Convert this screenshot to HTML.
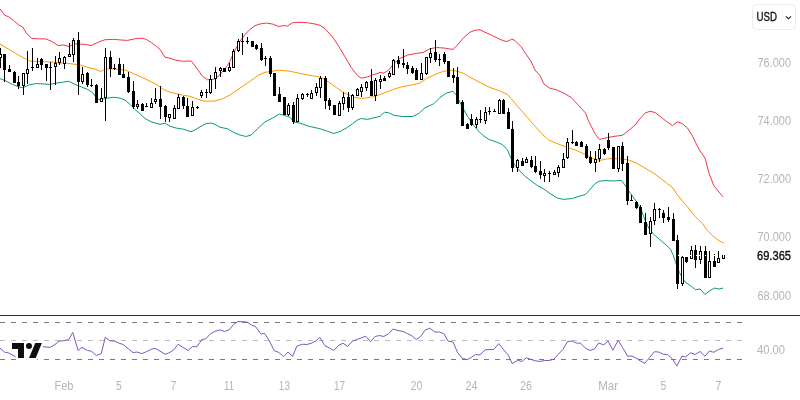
<!DOCTYPE html>
<html lang="en"><head><meta charset="utf-8"><title>Chart</title>
<style>
html,body{margin:0;padding:0;background:#fff;}
body{width:800px;height:400px;overflow:hidden;font-family:"Liberation Sans",sans-serif;}
svg{display:block;will-change:transform;}
text{font-family:"Liberation Sans",sans-serif;font-size:12px;}
.ax{fill:#b2b5be;}
</style></head><body>
<svg width="800" height="400" viewBox="0 0 800 400">
<rect width="800" height="400" fill="#fff"/>

<rect x="748" y="0" width="1" height="372" fill="#fdfdfe" shape-rendering="crispEdges"/>
<rect x="0" y="372" width="800" height="1" fill="#fcfcfd" shape-rendering="crispEdges"/>
<g shape-rendering="crispEdges">
<rect x="0" y="322" width="5" height="1" fill="#787b86"/>
<rect x="11" y="322" width="5" height="1" fill="#787b86"/>
<rect x="22" y="322" width="5" height="1" fill="#787b86"/>
<rect x="33" y="322" width="5" height="1" fill="#787b86"/>
<rect x="44" y="322" width="5" height="1" fill="#787b86"/>
<rect x="55" y="322" width="5" height="1" fill="#787b86"/>
<rect x="66" y="322" width="5" height="1" fill="#787b86"/>
<rect x="77" y="322" width="5" height="1" fill="#787b86"/>
<rect x="88" y="322" width="5" height="1" fill="#787b86"/>
<rect x="99" y="322" width="5" height="1" fill="#787b86"/>
<rect x="110" y="322" width="5" height="1" fill="#787b86"/>
<rect x="121" y="322" width="5" height="1" fill="#787b86"/>
<rect x="132" y="322" width="5" height="1" fill="#787b86"/>
<rect x="143" y="322" width="5" height="1" fill="#787b86"/>
<rect x="154" y="322" width="5" height="1" fill="#787b86"/>
<rect x="165" y="322" width="5" height="1" fill="#787b86"/>
<rect x="176" y="322" width="5" height="1" fill="#787b86"/>
<rect x="187" y="322" width="5" height="1" fill="#787b86"/>
<rect x="198" y="322" width="5" height="1" fill="#787b86"/>
<rect x="209" y="322" width="5" height="1" fill="#787b86"/>
<rect x="220" y="322" width="5" height="1" fill="#787b86"/>
<rect x="231" y="322" width="5" height="1" fill="#787b86"/>
<rect x="242" y="322" width="5" height="1" fill="#787b86"/>
<rect x="253" y="322" width="5" height="1" fill="#787b86"/>
<rect x="264" y="322" width="5" height="1" fill="#787b86"/>
<rect x="275" y="322" width="5" height="1" fill="#787b86"/>
<rect x="286" y="322" width="5" height="1" fill="#787b86"/>
<rect x="297" y="322" width="5" height="1" fill="#787b86"/>
<rect x="308" y="322" width="5" height="1" fill="#787b86"/>
<rect x="319" y="322" width="5" height="1" fill="#787b86"/>
<rect x="330" y="322" width="5" height="1" fill="#787b86"/>
<rect x="341" y="322" width="5" height="1" fill="#787b86"/>
<rect x="352" y="322" width="5" height="1" fill="#787b86"/>
<rect x="363" y="322" width="5" height="1" fill="#787b86"/>
<rect x="374" y="322" width="5" height="1" fill="#787b86"/>
<rect x="385" y="322" width="5" height="1" fill="#787b86"/>
<rect x="396" y="322" width="5" height="1" fill="#787b86"/>
<rect x="407" y="322" width="5" height="1" fill="#787b86"/>
<rect x="418" y="322" width="5" height="1" fill="#787b86"/>
<rect x="429" y="322" width="5" height="1" fill="#787b86"/>
<rect x="440" y="322" width="5" height="1" fill="#787b86"/>
<rect x="451" y="322" width="5" height="1" fill="#787b86"/>
<rect x="462" y="322" width="5" height="1" fill="#787b86"/>
<rect x="473" y="322" width="5" height="1" fill="#787b86"/>
<rect x="484" y="322" width="5" height="1" fill="#787b86"/>
<rect x="495" y="322" width="5" height="1" fill="#787b86"/>
<rect x="506" y="322" width="5" height="1" fill="#787b86"/>
<rect x="517" y="322" width="5" height="1" fill="#787b86"/>
<rect x="528" y="322" width="5" height="1" fill="#787b86"/>
<rect x="539" y="322" width="5" height="1" fill="#787b86"/>
<rect x="550" y="322" width="5" height="1" fill="#787b86"/>
<rect x="561" y="322" width="5" height="1" fill="#787b86"/>
<rect x="572" y="322" width="5" height="1" fill="#787b86"/>
<rect x="583" y="322" width="5" height="1" fill="#787b86"/>
<rect x="594" y="322" width="5" height="1" fill="#787b86"/>
<rect x="605" y="322" width="5" height="1" fill="#787b86"/>
<rect x="616" y="322" width="5" height="1" fill="#787b86"/>
<rect x="627" y="322" width="5" height="1" fill="#787b86"/>
<rect x="638" y="322" width="5" height="1" fill="#787b86"/>
<rect x="649" y="322" width="5" height="1" fill="#787b86"/>
<rect x="660" y="322" width="5" height="1" fill="#787b86"/>
<rect x="671" y="322" width="5" height="1" fill="#787b86"/>
<rect x="682" y="322" width="5" height="1" fill="#787b86"/>
<rect x="693" y="322" width="5" height="1" fill="#787b86"/>
<rect x="704" y="322" width="5" height="1" fill="#787b86"/>
<rect x="715" y="322" width="5" height="1" fill="#787b86"/>
<rect x="726" y="322" width="5" height="1" fill="#787b86"/>
<rect x="737" y="322" width="5" height="1" fill="#787b86"/>
<rect x="0" y="340" width="5" height="1" fill="#bcbdc3"/>
<rect x="11" y="340" width="5" height="1" fill="#bcbdc3"/>
<rect x="22" y="340" width="5" height="1" fill="#bcbdc3"/>
<rect x="33" y="340" width="5" height="1" fill="#bcbdc3"/>
<rect x="44" y="340" width="5" height="1" fill="#bcbdc3"/>
<rect x="55" y="340" width="5" height="1" fill="#bcbdc3"/>
<rect x="66" y="340" width="5" height="1" fill="#bcbdc3"/>
<rect x="77" y="340" width="5" height="1" fill="#bcbdc3"/>
<rect x="88" y="340" width="5" height="1" fill="#bcbdc3"/>
<rect x="99" y="340" width="5" height="1" fill="#bcbdc3"/>
<rect x="110" y="340" width="5" height="1" fill="#bcbdc3"/>
<rect x="121" y="340" width="5" height="1" fill="#bcbdc3"/>
<rect x="132" y="340" width="5" height="1" fill="#bcbdc3"/>
<rect x="143" y="340" width="5" height="1" fill="#bcbdc3"/>
<rect x="154" y="340" width="5" height="1" fill="#bcbdc3"/>
<rect x="165" y="340" width="5" height="1" fill="#bcbdc3"/>
<rect x="176" y="340" width="5" height="1" fill="#bcbdc3"/>
<rect x="187" y="340" width="5" height="1" fill="#bcbdc3"/>
<rect x="198" y="340" width="5" height="1" fill="#bcbdc3"/>
<rect x="209" y="340" width="5" height="1" fill="#bcbdc3"/>
<rect x="220" y="340" width="5" height="1" fill="#bcbdc3"/>
<rect x="231" y="340" width="5" height="1" fill="#bcbdc3"/>
<rect x="242" y="340" width="5" height="1" fill="#bcbdc3"/>
<rect x="253" y="340" width="5" height="1" fill="#bcbdc3"/>
<rect x="264" y="340" width="5" height="1" fill="#bcbdc3"/>
<rect x="275" y="340" width="5" height="1" fill="#bcbdc3"/>
<rect x="286" y="340" width="5" height="1" fill="#bcbdc3"/>
<rect x="297" y="340" width="5" height="1" fill="#bcbdc3"/>
<rect x="308" y="340" width="5" height="1" fill="#bcbdc3"/>
<rect x="319" y="340" width="5" height="1" fill="#bcbdc3"/>
<rect x="330" y="340" width="5" height="1" fill="#bcbdc3"/>
<rect x="341" y="340" width="5" height="1" fill="#bcbdc3"/>
<rect x="352" y="340" width="5" height="1" fill="#bcbdc3"/>
<rect x="363" y="340" width="5" height="1" fill="#bcbdc3"/>
<rect x="374" y="340" width="5" height="1" fill="#bcbdc3"/>
<rect x="385" y="340" width="5" height="1" fill="#bcbdc3"/>
<rect x="396" y="340" width="5" height="1" fill="#bcbdc3"/>
<rect x="407" y="340" width="5" height="1" fill="#bcbdc3"/>
<rect x="418" y="340" width="5" height="1" fill="#bcbdc3"/>
<rect x="429" y="340" width="5" height="1" fill="#bcbdc3"/>
<rect x="440" y="340" width="5" height="1" fill="#bcbdc3"/>
<rect x="451" y="340" width="5" height="1" fill="#bcbdc3"/>
<rect x="462" y="340" width="5" height="1" fill="#bcbdc3"/>
<rect x="473" y="340" width="5" height="1" fill="#bcbdc3"/>
<rect x="484" y="340" width="5" height="1" fill="#bcbdc3"/>
<rect x="495" y="340" width="5" height="1" fill="#bcbdc3"/>
<rect x="506" y="340" width="5" height="1" fill="#bcbdc3"/>
<rect x="517" y="340" width="5" height="1" fill="#bcbdc3"/>
<rect x="528" y="340" width="5" height="1" fill="#bcbdc3"/>
<rect x="539" y="340" width="5" height="1" fill="#bcbdc3"/>
<rect x="550" y="340" width="5" height="1" fill="#bcbdc3"/>
<rect x="561" y="340" width="5" height="1" fill="#bcbdc3"/>
<rect x="572" y="340" width="5" height="1" fill="#bcbdc3"/>
<rect x="583" y="340" width="5" height="1" fill="#bcbdc3"/>
<rect x="594" y="340" width="5" height="1" fill="#bcbdc3"/>
<rect x="605" y="340" width="5" height="1" fill="#bcbdc3"/>
<rect x="616" y="340" width="5" height="1" fill="#bcbdc3"/>
<rect x="627" y="340" width="5" height="1" fill="#bcbdc3"/>
<rect x="638" y="340" width="5" height="1" fill="#bcbdc3"/>
<rect x="649" y="340" width="5" height="1" fill="#bcbdc3"/>
<rect x="660" y="340" width="5" height="1" fill="#bcbdc3"/>
<rect x="671" y="340" width="5" height="1" fill="#bcbdc3"/>
<rect x="682" y="340" width="5" height="1" fill="#bcbdc3"/>
<rect x="693" y="340" width="5" height="1" fill="#bcbdc3"/>
<rect x="704" y="340" width="5" height="1" fill="#bcbdc3"/>
<rect x="715" y="340" width="5" height="1" fill="#bcbdc3"/>
<rect x="726" y="340" width="5" height="1" fill="#bcbdc3"/>
<rect x="737" y="340" width="5" height="1" fill="#bcbdc3"/>
<rect x="0" y="359" width="5" height="1" fill="#787b86"/>
<rect x="11" y="359" width="5" height="1" fill="#787b86"/>
<rect x="22" y="359" width="5" height="1" fill="#787b86"/>
<rect x="33" y="359" width="5" height="1" fill="#787b86"/>
<rect x="44" y="359" width="5" height="1" fill="#787b86"/>
<rect x="55" y="359" width="5" height="1" fill="#787b86"/>
<rect x="66" y="359" width="5" height="1" fill="#787b86"/>
<rect x="77" y="359" width="5" height="1" fill="#787b86"/>
<rect x="88" y="359" width="5" height="1" fill="#787b86"/>
<rect x="99" y="359" width="5" height="1" fill="#787b86"/>
<rect x="110" y="359" width="5" height="1" fill="#787b86"/>
<rect x="121" y="359" width="5" height="1" fill="#787b86"/>
<rect x="132" y="359" width="5" height="1" fill="#787b86"/>
<rect x="143" y="359" width="5" height="1" fill="#787b86"/>
<rect x="154" y="359" width="5" height="1" fill="#787b86"/>
<rect x="165" y="359" width="5" height="1" fill="#787b86"/>
<rect x="176" y="359" width="5" height="1" fill="#787b86"/>
<rect x="187" y="359" width="5" height="1" fill="#787b86"/>
<rect x="198" y="359" width="5" height="1" fill="#787b86"/>
<rect x="209" y="359" width="5" height="1" fill="#787b86"/>
<rect x="220" y="359" width="5" height="1" fill="#787b86"/>
<rect x="231" y="359" width="5" height="1" fill="#787b86"/>
<rect x="242" y="359" width="5" height="1" fill="#787b86"/>
<rect x="253" y="359" width="5" height="1" fill="#787b86"/>
<rect x="264" y="359" width="5" height="1" fill="#787b86"/>
<rect x="275" y="359" width="5" height="1" fill="#787b86"/>
<rect x="286" y="359" width="5" height="1" fill="#787b86"/>
<rect x="297" y="359" width="5" height="1" fill="#787b86"/>
<rect x="308" y="359" width="5" height="1" fill="#787b86"/>
<rect x="319" y="359" width="5" height="1" fill="#787b86"/>
<rect x="330" y="359" width="5" height="1" fill="#787b86"/>
<rect x="341" y="359" width="5" height="1" fill="#787b86"/>
<rect x="352" y="359" width="5" height="1" fill="#787b86"/>
<rect x="363" y="359" width="5" height="1" fill="#787b86"/>
<rect x="374" y="359" width="5" height="1" fill="#787b86"/>
<rect x="385" y="359" width="5" height="1" fill="#787b86"/>
<rect x="396" y="359" width="5" height="1" fill="#787b86"/>
<rect x="407" y="359" width="5" height="1" fill="#787b86"/>
<rect x="418" y="359" width="5" height="1" fill="#787b86"/>
<rect x="429" y="359" width="5" height="1" fill="#787b86"/>
<rect x="440" y="359" width="5" height="1" fill="#787b86"/>
<rect x="451" y="359" width="5" height="1" fill="#787b86"/>
<rect x="462" y="359" width="5" height="1" fill="#787b86"/>
<rect x="473" y="359" width="5" height="1" fill="#787b86"/>
<rect x="484" y="359" width="5" height="1" fill="#787b86"/>
<rect x="495" y="359" width="5" height="1" fill="#787b86"/>
<rect x="506" y="359" width="5" height="1" fill="#787b86"/>
<rect x="517" y="359" width="5" height="1" fill="#787b86"/>
<rect x="528" y="359" width="5" height="1" fill="#787b86"/>
<rect x="539" y="359" width="5" height="1" fill="#787b86"/>
<rect x="550" y="359" width="5" height="1" fill="#787b86"/>
<rect x="561" y="359" width="5" height="1" fill="#787b86"/>
<rect x="572" y="359" width="5" height="1" fill="#787b86"/>
<rect x="583" y="359" width="5" height="1" fill="#787b86"/>
<rect x="594" y="359" width="5" height="1" fill="#787b86"/>
<rect x="605" y="359" width="5" height="1" fill="#787b86"/>
<rect x="616" y="359" width="5" height="1" fill="#787b86"/>
<rect x="627" y="359" width="5" height="1" fill="#787b86"/>
<rect x="638" y="359" width="5" height="1" fill="#787b86"/>
<rect x="649" y="359" width="5" height="1" fill="#787b86"/>
<rect x="660" y="359" width="5" height="1" fill="#787b86"/>
<rect x="671" y="359" width="5" height="1" fill="#787b86"/>
<rect x="682" y="359" width="5" height="1" fill="#787b86"/>
<rect x="693" y="359" width="5" height="1" fill="#787b86"/>
<rect x="704" y="359" width="5" height="1" fill="#787b86"/>
<rect x="715" y="359" width="5" height="1" fill="#787b86"/>
<rect x="726" y="359" width="5" height="1" fill="#787b86"/>
<rect x="737" y="359" width="5" height="1" fill="#787b86"/>
</g>
<polyline points="0.00,8.75 4.40,15.00 8.75,16.90 13.75,20.60 18.75,25.00 22.50,26.90 26.90,33.75 31.90,38.50 37.50,38.75 46.25,39.00 52.50,41.90 58.10,45.60 63.75,45.00 68.75,46.50 75.00,43.75 85.00,44.40 91.25,45.60 96.25,43.10 100.00,41.50 105.00,39.75 113.75,39.40 121.25,40.00 127.50,40.40 135.00,38.75 141.90,38.10 146.25,39.40 151.25,42.50 156.25,46.25 160.00,49.40 165.00,57.25 170.00,58.10 175.00,60.00 182.50,61.25 191.25,61.00 196.25,67.50 202.50,76.25 207.50,79.75 213.75,79.40 218.75,76.00 223.75,70.00 227.50,65.60 230.30,60.50 235.00,50.00 240.00,41.25 245.00,34.40 250.00,29.40 255.00,25.60 260.00,24.00 266.25,23.10 272.50,24.00 278.75,26.50 283.75,25.60 287.50,26.00 292.50,22.75 300.00,22.25 307.50,22.75 315.00,24.00 320.00,25.25 325.00,28.75 326.25,30.00 332.50,36.90 338.75,46.25 345.00,56.90 351.25,67.50 357.50,75.60 361.25,78.10 367.50,76.90 372.50,75.00 380.00,72.50 383.75,73.10 388.75,70.00 393.75,63.75 400.00,58.40 407.50,55.00 416.25,53.50 423.75,52.25 430.00,48.75 436.25,47.50 445.00,48.10 450.00,49.00 453.00,49.40 457.50,45.00 463.75,37.50 470.00,32.25 475.00,30.25 480.00,29.75 485.00,32.25 492.50,35.60 500.00,39.40 505.00,41.25 508.00,41.25 511.90,39.00 515.00,40.60 521.25,46.90 526.25,54.40 531.25,61.90 535.00,70.00 540.00,75.60 543.75,83.75 549.40,88.10 556.25,89.75 563.75,93.10 571.25,97.50 578.75,105.60 585.60,113.10 588.10,120.00 591.25,126.25 595.00,133.75 599.40,139.40 607.50,137.50 615.00,136.25 622.50,135.25 630.00,129.40 635.00,125.00 640.00,118.75 645.00,113.10 650.00,111.25 655.00,112.50 660.00,116.25 666.25,121.25 672.50,125.60 677.25,121.90 682.50,123.75 687.50,128.10 692.50,136.25 696.25,143.75 699.40,150.00 705.00,158.10 708.75,172.50 713.75,185.60 723.10,196.90" fill="none" stroke="#f23645" stroke-width="1" stroke-linejoin="round" stroke-linecap="butt"/>
<polyline points="0.00,78.60 5.00,80.60 12.50,84.40 18.75,86.90 23.00,87.75 28.75,85.00 36.25,83.50 50.00,84.40 56.25,83.10 62.50,82.25 68.75,81.25 75.00,84.40 81.25,86.90 87.50,89.40 92.50,92.50 95.00,96.00 97.50,99.00 100.00,99.75 107.50,98.10 113.75,97.25 120.00,98.10 125.00,100.00 130.00,104.40 135.00,109.40 140.00,113.75 145.00,118.50 151.25,121.90 160.00,124.40 165.00,123.10 170.00,126.25 176.25,128.10 182.50,129.00 186.00,130.00 191.00,131.70 194.00,130.50 200.00,126.90 206.25,123.50 211.25,123.10 215.00,124.40 220.00,127.25 227.50,128.75 233.75,132.50 240.00,135.00 246.25,136.50 251.25,135.00 257.50,128.75 265.00,121.90 272.50,118.10 279.40,114.00 283.75,115.25 290.00,117.20 293.75,121.90 300.00,123.10 308.75,126.25 320.00,128.75 327.50,131.25 333.75,133.50 340.00,131.50 346.25,128.10 352.50,123.75 357.50,120.00 361.25,118.50 367.50,119.40 375.00,117.50 380.00,116.40 384.40,112.25 388.75,112.75 393.75,115.25 402.50,116.50 412.50,116.50 418.75,113.50 425.00,107.75 433.75,103.75 440.00,97.50 446.25,93.10 453.10,91.25 456.25,95.00 461.25,105.00 467.50,116.25 472.50,123.75 477.50,130.00 482.50,135.00 488.75,139.40 496.25,141.90 502.50,144.60 507.50,150.00 510.60,157.50 513.75,163.75 518.75,170.00 525.00,176.25 531.25,181.00 537.50,185.60 543.75,189.00 550.00,193.50 557.50,198.10 563.75,199.40 572.50,198.50 580.00,196.00 585.60,194.40 590.00,189.40 595.00,183.75 598.75,181.25 605.00,180.60 615.00,181.00 621.25,180.30 625.00,185.00 630.00,192.75 636.25,201.25 641.25,210.00 645.00,220.00 648.75,228.10 653.75,234.40 660.00,239.80 666.25,245.00 670.60,249.40 673.10,255.00 675.60,262.50 679.40,272.50 685.00,281.90 691.25,286.25 695.60,289.75 700.00,289.00 705.00,294.40 710.00,290.60 714.40,288.10 718.75,289.00 723.10,288.10" fill="none" stroke="#089981" stroke-width="1" stroke-linejoin="round" stroke-linecap="butt"/>
<polyline points="0.00,44.00 10.00,50.00 20.00,56.00 30.00,61.00 40.00,61.60 52.00,62.00 60.00,63.00 70.00,63.60 80.00,65.00 90.00,68.00 95.00,69.00 100.60,71.50 103.75,70.00 108.75,68.75 115.00,69.00 125.00,70.00 132.50,73.10 145.00,78.75 157.50,85.00 163.75,89.60 170.00,92.20 182.50,95.10 190.00,96.25 196.25,98.75 205.00,101.25 215.00,101.00 222.50,98.75 230.00,95.00 240.00,88.10 250.00,81.25 258.75,75.00 265.00,72.25 271.25,71.50 277.50,70.25 283.75,70.60 290.00,71.25 307.50,75.00 317.50,76.50 323.75,78.75 330.00,83.10 336.25,87.50 342.50,91.90 348.75,95.00 355.00,97.50 361.25,98.50 367.50,97.75 373.75,96.50 380.00,94.60 392.50,89.70 401.25,86.90 411.25,85.00 420.00,83.10 426.25,78.75 432.50,75.60 440.00,72.50 445.00,71.00 451.25,70.25 457.50,71.25 463.75,73.50 470.00,77.20 480.00,82.50 490.00,87.50 498.75,90.60 507.50,94.40 511.25,98.75 517.50,106.25 523.75,113.10 527.50,117.50 535.00,126.25 542.50,134.40 548.75,140.00 555.00,142.75 565.00,146.60 575.00,149.90 585.00,154.25 592.50,158.40 600.00,160.40 607.50,158.75 615.00,158.50 622.50,159.00 630.00,160.40 636.25,163.10 643.75,167.30 652.50,172.50 660.00,177.80 667.50,183.75 672.50,187.50 677.50,195.00 681.60,200.00 687.50,206.90 695.00,216.25 702.50,223.75 707.50,230.60 712.50,235.60 718.75,240.60 723.75,243.10" fill="none" stroke="#ff9800" stroke-width="1" stroke-linejoin="round" stroke-linecap="butt"/>
<polyline points="0.00,348.00 4.40,352.00 8.75,353.00 15.60,356.75" fill="none" stroke="#7e57c2" stroke-width="1" stroke-linejoin="round" stroke-linecap="butt"/>
<polyline points="42.50,346.60 50.00,347.40 55.00,344.50 59.00,341.10 63.75,340.75 68.75,339.50 72.75,332.40 78.10,350.50 81.90,347.40 87.50,350.50 91.25,351.10 96.25,355.50 101.25,353.60 105.25,337.40 110.00,340.75 114.40,341.10 118.75,343.00 123.10,344.50 128.10,348.60 133.10,352.60 136.90,352.00 141.90,353.60 146.25,351.75 151.25,349.25 155.00,348.25 160.00,351.10 165.00,354.25 168.75,353.00 173.75,349.90 178.10,344.25 183.10,347.40 188.10,350.50 192.50,346.50 196.90,346.75 201.90,339.50 205.60,339.00 210.60,333.60 215.60,331.10 220.00,329.90 224.40,331.50 229.00,329.90 233.75,324.25 238.10,321.50 242.50,321.75 246.90,322.00 251.25,324.90 255.60,326.75 261.25,334.25 264.40,333.25 268.75,339.90 274.40,350.75 278.75,352.40 283.75,356.50 288.10,352.00 292.50,356.50 296.90,346.10 302.50,344.25 306.90,344.50 311.25,343.25 315.60,341.10 319.75,337.40 325.00,345.75 329.40,348.00 333.75,350.50 338.75,345.25 343.10,343.25 347.50,346.50 352.50,341.10 356.90,339.50 361.25,338.00 365.60,336.10 370.60,341.75 375.00,336.50 379.40,335.50 383.75,336.50 388.75,333.60 393.10,329.00 396.90,330.25 403.10,331.50 407.50,333.60 411.90,335.75 416.25,339.50 420.60,336.50 425.25,329.90 429.75,328.25 435.00,332.00 439.40,332.00 443.75,333.60 448.10,341.10 453.10,342.00 457.50,352.40 462.50,358.60 467.50,359.50 471.25,357.40 475.60,354.50 480.00,354.90 485.00,349.90 489.40,349.50 493.75,349.50 498.75,343.60 503.75,349.90 508.10,354.90 512.25,363.60 517.50,360.25 521.90,361.50 526.25,357.75 530.60,359.25 535.00,360.75 540.00,361.50 544.40,360.50 549.40,360.50 553.75,359.25 558.10,354.50 563.10,349.25 567.50,341.50 572.25,341.10 576.25,343.00 580.60,343.25 585.60,348.25 590.00,350.50 594.40,349.00 598.75,343.00 603.75,344.90 608.10,341.10 612.90,350.25 618.10,340.25 622.50,347.40 627.50,356.10 631.90,356.10 635.60,357.75 640.00,360.75 644.75,363.25 649.40,357.75 654.40,351.75 658.75,352.00 663.10,354.25 667.50,354.50 672.50,359.00 676.90,366.10 681.90,356.10 685.60,357.00 690.60,352.75 695.00,354.50 700.00,351.50 705.00,356.25 709.40,351.00 713.75,352.25 718.75,349.40 723.10,348.10" fill="none" stroke="#7e57c2" stroke-width="1" stroke-linejoin="round" stroke-linecap="butt"/>
<g shape-rendering="crispEdges" fill="#000">
<rect x="0" y="48" width="1" height="6"/>
<rect x="0" y="58" width="1" height="10"/>
<rect x="-1" y="54" width="3" height="4"/>
<rect x="0" y="55" width="1" height="2" fill="#fff"/>
<rect x="4" y="54" width="1" height="28"/>
<rect x="3" y="54" width="3" height="16"/>
<rect x="9" y="65" width="1" height="7"/>
<rect x="8" y="69" width="3" height="3"/>
<rect x="14" y="71" width="1" height="12"/>
<rect x="13" y="72" width="3" height="11"/>
<rect x="18" y="76" width="1" height="13"/>
<rect x="17" y="82" width="3" height="4"/>
<rect x="23" y="86" width="1" height="9"/>
<rect x="22" y="73" width="3" height="13"/>
<rect x="23" y="74" width="1" height="11" fill="#fff"/>
<rect x="27" y="51" width="1" height="18"/>
<rect x="27" y="74" width="1" height="10"/>
<rect x="26" y="69" width="3" height="5"/>
<rect x="27" y="70" width="1" height="3" fill="#fff"/>
<rect x="32" y="48" width="1" height="23"/>
<rect x="31" y="67" width="3" height="1"/>
<rect x="37" y="58" width="1" height="6"/>
<rect x="36" y="64" width="3" height="4"/>
<rect x="37" y="65" width="1" height="2" fill="#fff"/>
<rect x="41" y="58" width="1" height="12"/>
<rect x="40" y="59" width="3" height="6"/>
<rect x="46" y="64" width="1" height="17"/>
<rect x="45" y="64" width="3" height="4"/>
<rect x="50" y="62" width="1" height="28"/>
<rect x="49" y="67" width="3" height="1"/>
<rect x="55" y="56" width="1" height="7"/>
<rect x="55" y="67" width="1" height="18"/>
<rect x="54" y="63" width="3" height="4"/>
<rect x="55" y="64" width="1" height="2" fill="#fff"/>
<rect x="59" y="52" width="1" height="6"/>
<rect x="59" y="63" width="1" height="2"/>
<rect x="58" y="58" width="3" height="5"/>
<rect x="59" y="59" width="1" height="3" fill="#fff"/>
<rect x="64" y="56" width="1" height="1"/>
<rect x="64" y="64" width="1" height="5"/>
<rect x="63" y="57" width="3" height="7"/>
<rect x="64" y="58" width="1" height="5" fill="#fff"/>
<rect x="69" y="43" width="1" height="11"/>
<rect x="68" y="54" width="3" height="3"/>
<rect x="69" y="55" width="1" height="1" fill="#fff"/>
<rect x="73" y="38" width="1" height="2"/>
<rect x="73" y="55" width="1" height="7"/>
<rect x="72" y="40" width="3" height="15"/>
<rect x="73" y="41" width="1" height="13" fill="#fff"/>
<rect x="78" y="32" width="1" height="63"/>
<rect x="77" y="40" width="3" height="42"/>
<rect x="82" y="67" width="1" height="7"/>
<rect x="82" y="82" width="1" height="2"/>
<rect x="81" y="74" width="3" height="8"/>
<rect x="82" y="75" width="1" height="6" fill="#fff"/>
<rect x="87" y="72" width="1" height="15"/>
<rect x="86" y="73" width="3" height="12"/>
<rect x="91" y="79" width="1" height="8"/>
<rect x="90" y="85" width="3" height="1"/>
<rect x="96" y="84" width="1" height="19"/>
<rect x="95" y="85" width="3" height="18"/>
<rect x="101" y="88" width="1" height="10"/>
<rect x="100" y="98" width="3" height="4"/>
<rect x="101" y="99" width="1" height="2" fill="#fff"/>
<rect x="105" y="48" width="1" height="9"/>
<rect x="105" y="98" width="1" height="23"/>
<rect x="104" y="57" width="3" height="41"/>
<rect x="105" y="58" width="1" height="39" fill="#fff"/>
<rect x="110" y="51" width="1" height="26"/>
<rect x="109" y="57" width="3" height="12"/>
<rect x="114" y="64" width="1" height="6"/>
<rect x="113" y="68" width="3" height="1"/>
<rect x="119" y="58" width="1" height="17"/>
<rect x="118" y="64" width="3" height="11"/>
<rect x="123" y="64" width="1" height="14"/>
<rect x="122" y="74" width="3" height="4"/>
<rect x="128" y="72" width="1" height="21"/>
<rect x="127" y="77" width="3" height="15"/>
<rect x="133" y="81" width="1" height="28"/>
<rect x="132" y="91" width="3" height="16"/>
<rect x="137" y="100" width="1" height="4"/>
<rect x="137" y="107" width="1" height="2"/>
<rect x="136" y="104" width="3" height="3"/>
<rect x="137" y="105" width="1" height="1" fill="#fff"/>
<rect x="142" y="103" width="1" height="8"/>
<rect x="141" y="104" width="3" height="7"/>
<rect x="146" y="103" width="1" height="4"/>
<rect x="145" y="106" width="3" height="1"/>
<rect x="151" y="98" width="1" height="5"/>
<rect x="150" y="103" width="3" height="5"/>
<rect x="151" y="104" width="1" height="3" fill="#fff"/>
<rect x="155" y="88" width="1" height="11"/>
<rect x="155" y="102" width="1" height="2"/>
<rect x="154" y="99" width="3" height="3"/>
<rect x="155" y="100" width="1" height="1" fill="#fff"/>
<rect x="160" y="86" width="1" height="33"/>
<rect x="159" y="99" width="3" height="8"/>
<rect x="165" y="105" width="1" height="17"/>
<rect x="164" y="106" width="3" height="11"/>
<rect x="169" y="118" width="1" height="4"/>
<rect x="168" y="114" width="3" height="4"/>
<rect x="169" y="115" width="1" height="2" fill="#fff"/>
<rect x="174" y="105" width="1" height="3"/>
<rect x="173" y="108" width="3" height="11"/>
<rect x="174" y="109" width="1" height="9" fill="#fff"/>
<rect x="178" y="94" width="1" height="3"/>
<rect x="177" y="97" width="3" height="12"/>
<rect x="178" y="98" width="1" height="10" fill="#fff"/>
<rect x="183" y="96" width="1" height="13"/>
<rect x="182" y="97" width="3" height="9"/>
<rect x="187" y="98" width="1" height="19"/>
<rect x="186" y="106" width="3" height="11"/>
<rect x="192" y="101" width="1" height="6"/>
<rect x="191" y="107" width="3" height="9"/>
<rect x="192" y="108" width="1" height="7" fill="#fff"/>
<rect x="197" y="106" width="1" height="3"/>
<rect x="196" y="107" width="3" height="1"/>
<rect x="201" y="90" width="1" height="2"/>
<rect x="201" y="96" width="1" height="2"/>
<rect x="200" y="92" width="3" height="4"/>
<rect x="201" y="93" width="1" height="2" fill="#fff"/>
<rect x="206" y="89" width="1" height="9"/>
<rect x="205" y="92" width="3" height="1"/>
<rect x="210" y="75" width="1" height="4"/>
<rect x="210" y="93" width="1" height="1"/>
<rect x="209" y="79" width="3" height="14"/>
<rect x="210" y="80" width="1" height="12" fill="#fff"/>
<rect x="215" y="67" width="1" height="5"/>
<rect x="215" y="79" width="1" height="10"/>
<rect x="214" y="72" width="3" height="7"/>
<rect x="215" y="73" width="1" height="5" fill="#fff"/>
<rect x="220" y="67" width="1" height="1"/>
<rect x="220" y="71" width="1" height="6"/>
<rect x="219" y="68" width="3" height="3"/>
<rect x="220" y="69" width="1" height="1" fill="#fff"/>
<rect x="224" y="68" width="1" height="4"/>
<rect x="223" y="68" width="3" height="4"/>
<rect x="229" y="63" width="1" height="4"/>
<rect x="229" y="71" width="1" height="1"/>
<rect x="228" y="67" width="3" height="4"/>
<rect x="229" y="68" width="1" height="2" fill="#fff"/>
<rect x="233" y="49" width="1" height="2"/>
<rect x="232" y="51" width="3" height="17"/>
<rect x="233" y="52" width="1" height="15" fill="#fff"/>
<rect x="238" y="39" width="1" height="2"/>
<rect x="238" y="51" width="1" height="1"/>
<rect x="237" y="41" width="3" height="10"/>
<rect x="238" y="42" width="1" height="8" fill="#fff"/>
<rect x="242" y="33" width="1" height="22"/>
<rect x="241" y="41" width="3" height="1"/>
<rect x="247" y="37" width="1" height="7"/>
<rect x="246" y="41" width="3" height="1"/>
<rect x="252" y="41" width="1" height="6"/>
<rect x="251" y="41" width="3" height="6"/>
<rect x="256" y="44" width="1" height="6"/>
<rect x="255" y="45" width="3" height="4"/>
<rect x="261" y="43" width="1" height="18"/>
<rect x="260" y="48" width="3" height="12"/>
<rect x="265" y="56" width="1" height="10"/>
<rect x="264" y="58" width="3" height="1"/>
<rect x="270" y="56" width="1" height="21"/>
<rect x="269" y="58" width="3" height="16"/>
<rect x="274" y="73" width="1" height="23"/>
<rect x="273" y="73" width="3" height="23"/>
<rect x="279" y="87" width="1" height="15"/>
<rect x="278" y="94" width="3" height="8"/>
<rect x="284" y="97" width="1" height="18"/>
<rect x="283" y="97" width="3" height="18"/>
<rect x="288" y="103" width="1" height="2"/>
<rect x="288" y="115" width="1" height="1"/>
<rect x="287" y="105" width="3" height="10"/>
<rect x="288" y="106" width="1" height="8" fill="#fff"/>
<rect x="293" y="102" width="1" height="22"/>
<rect x="292" y="105" width="3" height="17"/>
<rect x="297" y="94" width="1" height="4"/>
<rect x="296" y="98" width="3" height="24"/>
<rect x="297" y="99" width="1" height="22" fill="#fff"/>
<rect x="302" y="93" width="1" height="1"/>
<rect x="302" y="99" width="1" height="1"/>
<rect x="301" y="94" width="3" height="5"/>
<rect x="302" y="95" width="1" height="3" fill="#fff"/>
<rect x="307" y="93" width="1" height="4"/>
<rect x="306" y="94" width="3" height="1"/>
<rect x="311" y="90" width="1" height="3"/>
<rect x="310" y="93" width="3" height="6"/>
<rect x="311" y="94" width="1" height="4" fill="#fff"/>
<rect x="316" y="83" width="1" height="4"/>
<rect x="316" y="93" width="1" height="3"/>
<rect x="315" y="87" width="3" height="6"/>
<rect x="316" y="88" width="1" height="4" fill="#fff"/>
<rect x="320" y="76" width="1" height="2"/>
<rect x="320" y="88" width="1" height="10"/>
<rect x="319" y="78" width="3" height="10"/>
<rect x="320" y="79" width="1" height="8" fill="#fff"/>
<rect x="325" y="76" width="1" height="33"/>
<rect x="324" y="78" width="3" height="23"/>
<rect x="329" y="98" width="1" height="12"/>
<rect x="328" y="100" width="3" height="6"/>
<rect x="334" y="105" width="1" height="10"/>
<rect x="333" y="105" width="3" height="10"/>
<rect x="339" y="101" width="1" height="2"/>
<rect x="338" y="103" width="3" height="13"/>
<rect x="339" y="104" width="1" height="11" fill="#fff"/>
<rect x="343" y="92" width="1" height="5"/>
<rect x="343" y="104" width="1" height="6"/>
<rect x="342" y="97" width="3" height="7"/>
<rect x="343" y="98" width="1" height="5" fill="#fff"/>
<rect x="348" y="92" width="1" height="20"/>
<rect x="347" y="97" width="3" height="11"/>
<rect x="352" y="94" width="1" height="1"/>
<rect x="352" y="108" width="1" height="2"/>
<rect x="351" y="95" width="3" height="13"/>
<rect x="352" y="96" width="1" height="11" fill="#fff"/>
<rect x="357" y="88" width="1" height="1"/>
<rect x="356" y="89" width="3" height="7"/>
<rect x="357" y="90" width="1" height="5" fill="#fff"/>
<rect x="361" y="84" width="1" height="3"/>
<rect x="361" y="92" width="1" height="5"/>
<rect x="360" y="87" width="3" height="5"/>
<rect x="361" y="88" width="1" height="3" fill="#fff"/>
<rect x="366" y="81" width="1" height="1"/>
<rect x="366" y="88" width="1" height="3"/>
<rect x="365" y="82" width="3" height="6"/>
<rect x="366" y="83" width="1" height="4" fill="#fff"/>
<rect x="371" y="69" width="1" height="27"/>
<rect x="370" y="81" width="3" height="15"/>
<rect x="375" y="78" width="1" height="2"/>
<rect x="375" y="96" width="1" height="5"/>
<rect x="374" y="80" width="3" height="16"/>
<rect x="375" y="81" width="1" height="14" fill="#fff"/>
<rect x="380" y="75" width="1" height="4"/>
<rect x="380" y="82" width="1" height="7"/>
<rect x="379" y="79" width="3" height="3"/>
<rect x="380" y="80" width="1" height="1" fill="#fff"/>
<rect x="384" y="76" width="1" height="5"/>
<rect x="383" y="78" width="3" height="3"/>
<rect x="389" y="71" width="1" height="2"/>
<rect x="389" y="77" width="1" height="1"/>
<rect x="388" y="73" width="3" height="4"/>
<rect x="389" y="74" width="1" height="2" fill="#fff"/>
<rect x="393" y="59" width="1" height="1"/>
<rect x="392" y="60" width="3" height="15"/>
<rect x="393" y="61" width="1" height="13" fill="#fff"/>
<rect x="398" y="56" width="1" height="12"/>
<rect x="397" y="60" width="3" height="4"/>
<rect x="403" y="49" width="1" height="19"/>
<rect x="402" y="63" width="3" height="2"/>
<rect x="407" y="62" width="1" height="12"/>
<rect x="406" y="65" width="3" height="4"/>
<rect x="412" y="66" width="1" height="8"/>
<rect x="411" y="68" width="3" height="5"/>
<rect x="416" y="68" width="1" height="12"/>
<rect x="415" y="70" width="3" height="10"/>
<rect x="421" y="63" width="1" height="10"/>
<rect x="420" y="73" width="3" height="7"/>
<rect x="421" y="74" width="1" height="5" fill="#fff"/>
<rect x="426" y="74" width="1" height="1"/>
<rect x="425" y="57" width="3" height="17"/>
<rect x="426" y="58" width="1" height="15" fill="#fff"/>
<rect x="430" y="48" width="1" height="5"/>
<rect x="430" y="58" width="1" height="5"/>
<rect x="429" y="53" width="3" height="5"/>
<rect x="430" y="54" width="1" height="3" fill="#fff"/>
<rect x="435" y="40" width="1" height="22"/>
<rect x="434" y="52" width="3" height="8"/>
<rect x="439" y="54" width="1" height="12"/>
<rect x="438" y="59" width="3" height="1"/>
<rect x="444" y="52" width="1" height="12"/>
<rect x="443" y="54" width="3" height="8"/>
<rect x="448" y="61" width="1" height="16"/>
<rect x="447" y="61" width="3" height="16"/>
<rect x="453" y="68" width="1" height="15"/>
<rect x="452" y="75" width="3" height="3"/>
<rect x="457" y="67" width="1" height="37"/>
<rect x="456" y="77" width="3" height="27"/>
<rect x="462" y="100" width="1" height="26"/>
<rect x="461" y="102" width="3" height="24"/>
<rect x="467" y="123" width="1" height="6"/>
<rect x="466" y="124" width="3" height="5"/>
<rect x="471" y="114" width="1" height="12"/>
<rect x="470" y="119" width="3" height="6"/>
<rect x="476" y="117" width="1" height="2"/>
<rect x="476" y="125" width="1" height="3"/>
<rect x="475" y="119" width="3" height="6"/>
<rect x="476" y="120" width="1" height="4" fill="#fff"/>
<rect x="480" y="110" width="1" height="13"/>
<rect x="479" y="119" width="3" height="1"/>
<rect x="485" y="107" width="1" height="5"/>
<rect x="485" y="121" width="1" height="3"/>
<rect x="484" y="112" width="3" height="9"/>
<rect x="485" y="113" width="1" height="7" fill="#fff"/>
<rect x="489" y="107" width="1" height="8"/>
<rect x="488" y="111" width="3" height="1"/>
<rect x="494" y="109" width="1" height="3"/>
<rect x="493" y="111" width="3" height="1"/>
<rect x="499" y="99" width="1" height="1"/>
<rect x="498" y="100" width="3" height="14"/>
<rect x="499" y="101" width="1" height="12" fill="#fff"/>
<rect x="503" y="99" width="1" height="15"/>
<rect x="502" y="100" width="3" height="14"/>
<rect x="508" y="108" width="1" height="21"/>
<rect x="507" y="112" width="3" height="17"/>
<rect x="512" y="121" width="1" height="51"/>
<rect x="511" y="129" width="3" height="39"/>
<rect x="517" y="159" width="1" height="1"/>
<rect x="517" y="168" width="1" height="4"/>
<rect x="516" y="160" width="3" height="8"/>
<rect x="517" y="161" width="1" height="6" fill="#fff"/>
<rect x="522" y="158" width="1" height="8"/>
<rect x="521" y="161" width="3" height="5"/>
<rect x="526" y="157" width="1" height="2"/>
<rect x="525" y="159" width="3" height="4"/>
<rect x="526" y="160" width="1" height="2" fill="#fff"/>
<rect x="531" y="156" width="1" height="12"/>
<rect x="530" y="160" width="3" height="7"/>
<rect x="535" y="156" width="1" height="17"/>
<rect x="534" y="166" width="3" height="6"/>
<rect x="540" y="161" width="1" height="18"/>
<rect x="539" y="171" width="3" height="4"/>
<rect x="544" y="169" width="1" height="4"/>
<rect x="544" y="176" width="1" height="6"/>
<rect x="543" y="173" width="3" height="3"/>
<rect x="544" y="174" width="1" height="1" fill="#fff"/>
<rect x="549" y="171" width="1" height="11"/>
<rect x="548" y="173" width="3" height="1"/>
<rect x="554" y="170" width="1" height="2"/>
<rect x="553" y="172" width="3" height="3"/>
<rect x="554" y="173" width="1" height="1" fill="#fff"/>
<rect x="558" y="165" width="1" height="2"/>
<rect x="558" y="173" width="1" height="4"/>
<rect x="557" y="167" width="3" height="6"/>
<rect x="558" y="168" width="1" height="4" fill="#fff"/>
<rect x="563" y="153" width="1" height="6"/>
<rect x="562" y="159" width="3" height="9"/>
<rect x="563" y="160" width="1" height="7" fill="#fff"/>
<rect x="567" y="138" width="1" height="4"/>
<rect x="567" y="158" width="1" height="1"/>
<rect x="566" y="142" width="3" height="16"/>
<rect x="567" y="143" width="1" height="14" fill="#fff"/>
<rect x="572" y="130" width="1" height="14"/>
<rect x="571" y="142" width="3" height="1"/>
<rect x="576" y="141" width="1" height="5"/>
<rect x="575" y="142" width="3" height="4"/>
<rect x="581" y="141" width="1" height="6"/>
<rect x="580" y="142" width="3" height="5"/>
<rect x="586" y="144" width="1" height="15"/>
<rect x="585" y="146" width="3" height="12"/>
<rect x="590" y="151" width="1" height="13"/>
<rect x="589" y="157" width="3" height="6"/>
<rect x="595" y="151" width="1" height="8"/>
<rect x="595" y="163" width="1" height="9"/>
<rect x="594" y="159" width="3" height="4"/>
<rect x="595" y="160" width="1" height="2" fill="#fff"/>
<rect x="599" y="144" width="1" height="5"/>
<rect x="599" y="159" width="1" height="3"/>
<rect x="598" y="149" width="3" height="10"/>
<rect x="599" y="150" width="1" height="8" fill="#fff"/>
<rect x="604" y="148" width="1" height="7"/>
<rect x="603" y="149" width="3" height="5"/>
<rect x="608" y="133" width="1" height="17"/>
<rect x="607" y="140" width="3" height="8"/>
<rect x="613" y="147" width="1" height="22"/>
<rect x="612" y="147" width="3" height="22"/>
<rect x="618" y="169" width="1" height="3"/>
<rect x="617" y="146" width="3" height="23"/>
<rect x="618" y="147" width="1" height="21" fill="#fff"/>
<rect x="622" y="142" width="1" height="29"/>
<rect x="621" y="146" width="3" height="18"/>
<rect x="627" y="156" width="1" height="49"/>
<rect x="626" y="163" width="3" height="38"/>
<rect x="631" y="195" width="1" height="6"/>
<rect x="630" y="200" width="3" height="1"/>
<rect x="636" y="201" width="1" height="8"/>
<rect x="635" y="202" width="3" height="6"/>
<rect x="640" y="205" width="1" height="18"/>
<rect x="639" y="207" width="3" height="16"/>
<rect x="645" y="213" width="1" height="22"/>
<rect x="644" y="222" width="3" height="13"/>
<rect x="650" y="217" width="1" height="4"/>
<rect x="650" y="234" width="1" height="13"/>
<rect x="649" y="221" width="3" height="13"/>
<rect x="650" y="222" width="1" height="11" fill="#fff"/>
<rect x="654" y="203" width="1" height="6"/>
<rect x="654" y="221" width="1" height="4"/>
<rect x="653" y="209" width="3" height="12"/>
<rect x="654" y="210" width="1" height="10" fill="#fff"/>
<rect x="659" y="208" width="1" height="10"/>
<rect x="658" y="209" width="3" height="1"/>
<rect x="663" y="210" width="1" height="13"/>
<rect x="662" y="213" width="3" height="5"/>
<rect x="668" y="207" width="1" height="15"/>
<rect x="667" y="217" width="3" height="3"/>
<rect x="673" y="213" width="1" height="28"/>
<rect x="672" y="219" width="3" height="22"/>
<rect x="677" y="235" width="1" height="54"/>
<rect x="676" y="240" width="3" height="44"/>
<rect x="682" y="256" width="1" height="1"/>
<rect x="682" y="284" width="1" height="2"/>
<rect x="681" y="257" width="3" height="27"/>
<rect x="682" y="258" width="1" height="25" fill="#fff"/>
<rect x="686" y="257" width="1" height="6"/>
<rect x="685" y="257" width="3" height="5"/>
<rect x="691" y="246" width="1" height="4"/>
<rect x="690" y="250" width="3" height="9"/>
<rect x="691" y="251" width="1" height="7" fill="#fff"/>
<rect x="695" y="245" width="1" height="23"/>
<rect x="694" y="250" width="3" height="10"/>
<rect x="700" y="246" width="1" height="5"/>
<rect x="700" y="260" width="1" height="4"/>
<rect x="699" y="251" width="3" height="9"/>
<rect x="700" y="252" width="1" height="7" fill="#fff"/>
<rect x="705" y="246" width="1" height="32"/>
<rect x="704" y="251" width="3" height="27"/>
<rect x="709" y="251" width="1" height="10"/>
<rect x="708" y="261" width="3" height="17"/>
<rect x="709" y="262" width="1" height="15" fill="#fff"/>
<rect x="714" y="254" width="1" height="13"/>
<rect x="713" y="261" width="3" height="6"/>
<rect x="718" y="251" width="1" height="7"/>
<rect x="717" y="258" width="3" height="5"/>
<rect x="718" y="259" width="1" height="3" fill="#fff"/>
<rect x="722" y="255" width="3" height="4"/>
<rect x="723" y="256" width="1" height="2" fill="#fff"/>
</g>
<line x1="0" y1="255.5" x2="744" y2="255.5" stroke="#fff" stroke-width="1" stroke-dasharray="1 2" shape-rendering="crispEdges"/>
<rect x="0" y="315" width="800" height="1" fill="#2a2e39" shape-rendering="crispEdges"/>
<g fill="#fff" stroke="#fff" stroke-width="4" stroke-linejoin="miter"><path d="M12 343H24V358H18V349H12Z"/><circle cx="29" cy="346" r="3"/><path d="M35.3 343H41.9L35.7 358H29Z"/></g><g fill="#0f0f0f"><path d="M12 343H24V358H18V349H12Z"/><circle cx="29" cy="346" r="3"/><path d="M35.3 343H41.9L35.7 358H29Z"/></g>
<text x="757.5" y="66.8" class="ax" textLength="33.5" lengthAdjust="spacingAndGlyphs">76.000</text>
<text x="757.5" y="125" class="ax" textLength="33.5" lengthAdjust="spacingAndGlyphs">74.000</text>
<text x="757.5" y="183" class="ax" textLength="33.5" lengthAdjust="spacingAndGlyphs">72.000</text>
<text x="757.5" y="240.9" class="ax" textLength="33.5" lengthAdjust="spacingAndGlyphs">70.000</text>
<text x="757.5" y="299.8" class="ax" textLength="33.5" lengthAdjust="spacingAndGlyphs">68.000</text>
<text x="757" y="260" class="cur" textLength="34" lengthAdjust="spacingAndGlyphs" fill="#0c0e14" stroke="#0c0e14" stroke-width="0.35">69.365</text>
<text x="757" y="354" class="ax" textLength="28" lengthAdjust="spacingAndGlyphs">40.00</text>
<text x="54.5" y="390" class="ax" textLength="19" lengthAdjust="spacingAndGlyphs">Feb</text>
<text x="116.1" y="390" class="ax" textLength="5.8" lengthAdjust="spacingAndGlyphs">5</text>
<text x="170.6" y="390" class="ax" textLength="5.8" lengthAdjust="spacingAndGlyphs">7</text>
<text x="224.0" y="390" class="ax" textLength="10" lengthAdjust="spacingAndGlyphs">11</text>
<text x="278.79999999999995" y="390" class="ax" textLength="11.2" lengthAdjust="spacingAndGlyphs">13</text>
<text x="334.0" y="390" class="ax" textLength="11" lengthAdjust="spacingAndGlyphs">17</text>
<text x="410.5" y="390" class="ax" textLength="12" lengthAdjust="spacingAndGlyphs">20</text>
<text x="465.5" y="390" class="ax" textLength="12" lengthAdjust="spacingAndGlyphs">24</text>
<text x="520.1" y="390" class="ax" textLength="11.8" lengthAdjust="spacingAndGlyphs">26</text>
<text x="598.2" y="390" class="ax" textLength="20" lengthAdjust="spacingAndGlyphs">Mar</text>
<text x="660.4" y="390" class="ax" textLength="5.8" lengthAdjust="spacingAndGlyphs">5</text>
<text x="715.4" y="390" class="ax" textLength="5.8" lengthAdjust="spacingAndGlyphs">7</text>
<rect x="752.5" y="4.5" width="43" height="25" rx="4" ry="4" fill="#fff" stroke="#ebecef" stroke-width="1"/>
<text x="756.5" y="20.6" fill="#0c0e14" stroke="#0c0e14" stroke-width="0.3" textLength="20.5" lengthAdjust="spacingAndGlyphs">USD</text>
<polyline points="785.9,16.4 788.4,18.8 790.9,16.4" fill="none" stroke="#131722" stroke-width="1.1"/>
</svg></body></html>
